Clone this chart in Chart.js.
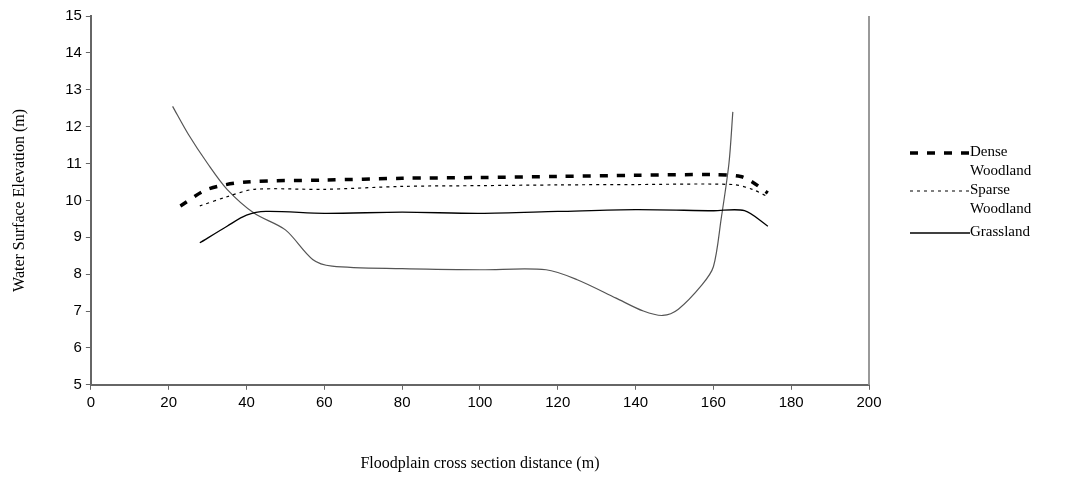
<!DOCTYPE html>
<html><head><meta charset="utf-8">
<script src="https://cdn.jsdelivr.net/npm/chart.js@4"></script>
<style>
body{margin:0;background:#fff;}
#wrap{position:relative;width:1078px;height:481px;}
#legend{position:absolute;left:908px;top:142px;font-family:"Liberation Serif";font-size:15px;color:#000;line-height:19px;}
.row{display:flex;align-items:flex-start;}
.sw{width:62px;height:10px;margin-top:6px;}
</style></head><body>
<div id="wrap"><canvas id="c" width="1078" height="481"></canvas>
<div id="legend">
<div class="row"><svg class="sw"><line x1="2" y1="5" x2="62" y2="5" stroke="#000" stroke-width="3.5" stroke-dasharray="8,9"/></svg><div>Dense<br>Woodland</div></div>
<div class="row"><svg class="sw"><line x1="2" y1="5" x2="62" y2="5" stroke="#000" stroke-width="1.2" stroke-dasharray="3,4"/></svg><div>Sparse<br>Woodland</div></div>
<div class="row" style="margin-top:4px"><svg class="sw"><line x1="2" y1="5" x2="62" y2="5" stroke="#000" stroke-width="1.3"/></svg><div>Grassland</div></div>
</div></div>
<script>
var denseX = [23,30,40,60,80,100,120,140,160,167,170,174];
var denseY = [9.85,10.3,10.5,10.55,10.6,10.62,10.65,10.68,10.7,10.65,10.5,10.2];
var sparseX = [28,35,42,60,80,100,120,140,165,170,174];
var sparseY = [9.85,10.1,10.3,10.3,10.38,10.4,10.42,10.43,10.43,10.3,10.1];
var grassX = [28,35,40,45,60,80,100,120,140,160,168,174];
var grassY = [8.85,9.3,9.6,9.7,9.65,9.68,9.65,9.7,9.75,9.72,9.72,9.3];
var groundX = [21,25,30,35,42,50,57,62,80,100,117,125,135,142,147,151,157,160,162,164,165];
var groundY = [12.55,11.8,11.0,10.3,9.65,9.2,8.4,8.22,8.15,8.12,8.12,7.85,7.35,7.0,6.88,7.05,7.7,8.2,9.5,11.0,12.4];

function pts(xs, ys){ return xs.map(function(x,i){ return {x:x, y:ys[i]}; }); }

new Chart(document.getElementById("c").getContext('2d'), {
  type: 'line',
  data: { datasets: [
    {label:"Dense Woodland", data:pts(denseX,denseY), borderColor:'#000', borderWidth:3.5, borderDash:[8,9], pointRadius:0, tension:0.3},
    {label:"Sparse Woodland", data:pts(sparseX,sparseY), borderColor:'#000', borderWidth:1.2, borderDash:[3,4], pointRadius:0, tension:0.3},
    {label:"Grassland", data:pts(grassX,grassY), borderColor:'#000', borderWidth:1.3, pointRadius:0, tension:0.3},
    {label:"Ground", data:pts(groundX,groundY), borderColor:'#555', borderWidth:1.2, pointRadius:0, tension:0.3}
  ]},
  options: {
    responsive:false, animation:false,
    layout:{padding:{left:6,top:16,right:209,bottom:4}},
    plugins:{legend:{display:false}, tooltip:{enabled:false}},
    scales:{
      x:{type:'linear', min:0, max:200,
        ticks:{stepSize:20, color:'#000', padding:4, font:{family:'Liberation Sans', size:15}},
        grid:{display:true, drawOnChartArea:false, tickLength:5, color:'#666'}, border:{color:'#666', width:2},
        title:{display:true, text:'Floodplain cross section distance (m)', color:'#000', font:{family:'Liberation Serif', size:16}, padding:{top:38}}},
      y:{min:5, max:15,
        ticks:{stepSize:1, color:'#000', padding:4, font:{family:'Liberation Sans', size:15}},
        grid:{display:true, drawOnChartArea:false, tickLength:5, color:'#666'}, border:{color:'#666', width:2},
        title:{display:true, text:'Water Surface Elevation (m)', color:'#000', font:{family:'Liberation Serif', size:16}, padding:{bottom:32}}}
    }
  },
  plugins:[{id:'rb', afterDraw:function(ch){var a=ch.chartArea,c=ch.ctx;c.save();c.strokeStyle='#999';c.lineWidth=2;c.beginPath();c.moveTo(a.right,a.top);c.lineTo(a.right,a.bottom);c.stroke();c.restore();}}]
});
</script></body></html>
